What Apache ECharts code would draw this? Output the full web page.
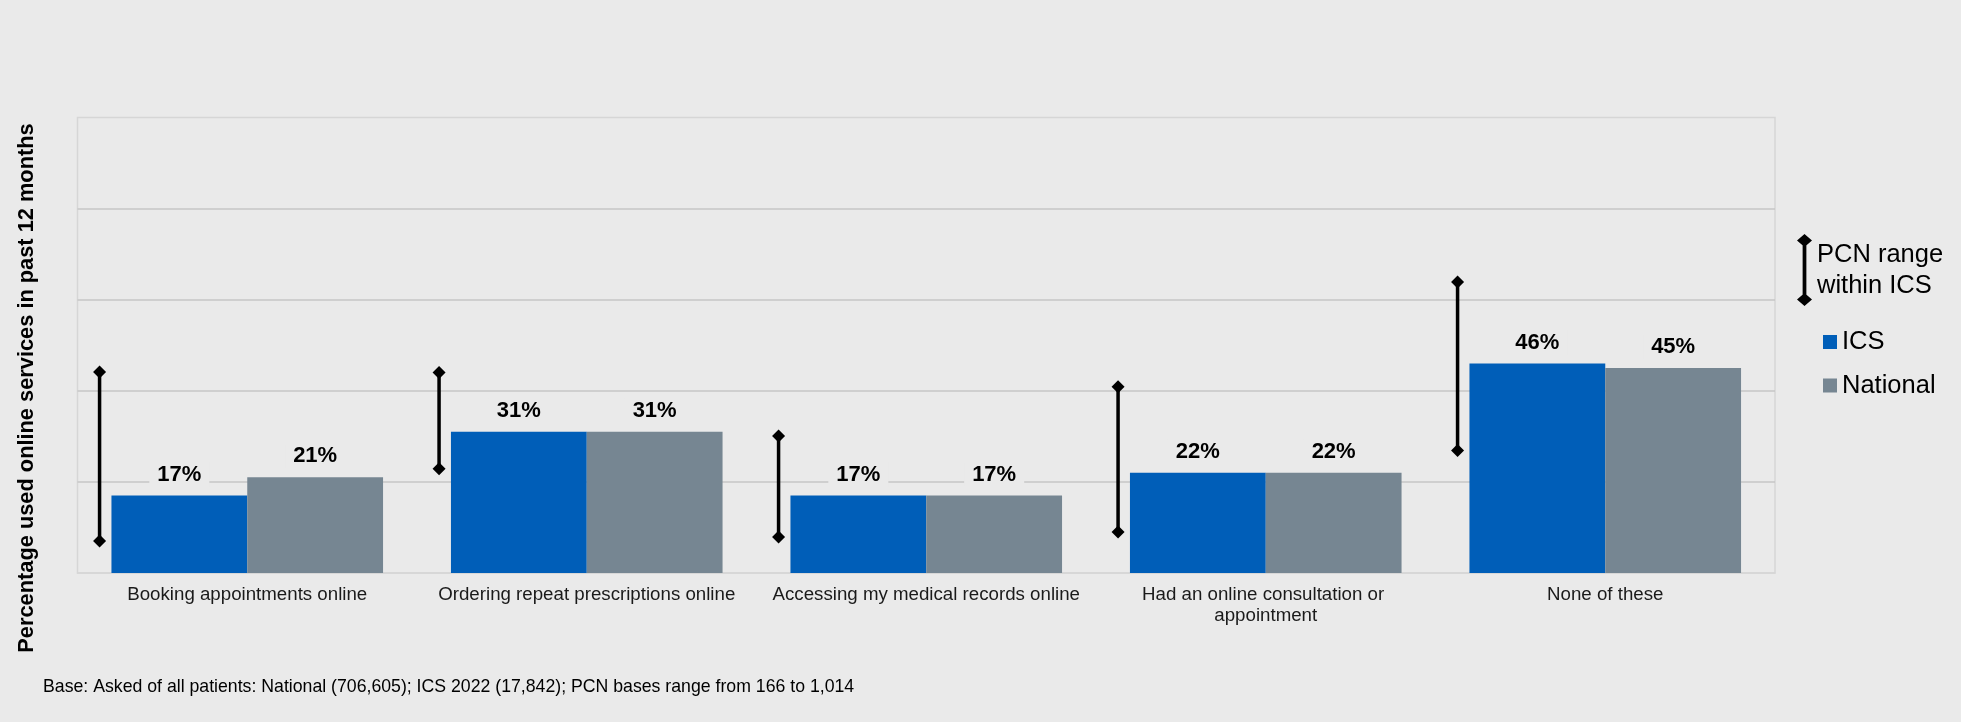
<!DOCTYPE html>
<html>
<head>
<meta charset="utf-8">
<script src="https://cdn.jsdelivr.net/npm/echarts@6/dist/echarts.min.js"></script>
<style>
html,body{margin:0;padding:0;background:#eaeaea;}
#chart{width:1961px;height:722px;}
</style>
</head>
<body>
<div id="chart"></div>
<script>
const categories = [
  'Booking appointments online',
  'Ordering repeat prescriptions online',
  'Accessing my medical records online',
  'Had an online consultation or appointment',
  'None of these'
];
const icsValues = [17, 31, 17, 22, 46];
const nationalValues = [21, 31, 17, 22, 45];
const pcnRangeLow = [7.0, 22.9, 7.9, 9.0, 26.9];
const pcnRangeHigh = [44.1, 44.0, 30.1, 40.9, 63.9];
const yTicks = [0, 20, 40, 60, 80, 100];

const BG = '#eaeaea';
const FONT = 'Liberation Sans, Arial, sans-serif';

const chart = echarts.init(document.getElementById('chart'), null, {renderer: 'canvas'});

const valueLabel = {
  show: true,
  position: 'top',
  distance: 9,
  formatter: '{c}%',
  fontFamily: FONT,
  fontSize: 22,
  fontWeight: 'bold',
  color: '#000',
  backgroundColor: BG,
  padding: [1, 8]
};

const pcnIcon = 'path://M7 0 L13 6 L7 12 L1 6 Z M5.5 6 L8.5 6 L8.5 60 L5.5 60 Z M7 54 L13 60 L7 66 L1 60 Z';

chart.setOption({
  backgroundColor: BG,
  animation: false,
  textStyle: {fontFamily: FONT},
  grid: {left: 77.5, right: 186, top: 117.5, bottom: 149, show: true, borderColor: '#d6d6d6', borderWidth: 1.5, backgroundColor: 'transparent'},
  legend: [
    {
      orient: 'vertical', left: 1792, top: 229,
      itemWidth: 15, itemHeight: 72, itemGap: 0,
      symbolKeepAspect: false,
      selectedMode: false,
      data: [{name: 'PCN range within ICS', icon: pcnIcon, itemStyle: {color: '#000', borderWidth: 0}}],
      formatter: () => 'PCN range\nwithin ICS',
      textStyle: {fontFamily: FONT, fontSize: 25.5, color: '#000', lineHeight: 31}
    },
    {
      orient: 'vertical', left: 1818, top: 323,
      itemWidth: 14, itemHeight: 14, itemGap: 15.5,
      selectedMode: false,
      data: [{name: 'ICS', icon: 'rect'}, {name: 'National', icon: 'rect'}],
      textStyle: {fontFamily: FONT, fontSize: 25.5, color: '#000', lineHeight: 28}
    }
  ],
  xAxis: {
    type: 'category',
    data: categories,
    axisTick: {show: false},
    axisLine: {show: true, lineStyle: {color: '#d6d6d6', width: 1.5}},
    axisLabel: {
      interval: 0, margin: 11,
      fontFamily: FONT, fontSize: 18.7, color: '#1a1a1a', lineHeight: 21,
      width: 320, overflow: 'break'
    }
  },
  yAxis: {
    type: 'value',
    min: yTicks[0], max: yTicks[yTicks.length - 1], interval: yTicks[1] - yTicks[0],
    axisLabel: {show: false},
    axisTick: {show: false},
    axisLine: {show: false},
    splitLine: {show: true, showMinLine: false, showMaxLine: false, lineStyle: {color: '#c6c6c6', width: 1.5}}
  },
  graphic: [
    {
      type: 'text', x: 27, y: 388, rotation: Math.PI / 2,
      style: {
        text: 'Percentage used online services in past 12 months',
        font: 'bold 21.8px ' + FONT, fill: '#000', align: 'center', verticalAlign: 'middle'
      }
    },
    {
      type: 'text', x: 43, y: 687,
      style: {
        text: 'Base: Asked of all patients: National (706,605); ICS 2022 (17,842); PCN bases range from 166 to 1,014',
        font: '17.7px ' + FONT, fill: '#000', align: 'left', verticalAlign: 'middle'
      }
    }
  ],
  series: [
    {
      name: 'ICS', type: 'bar', data: icsValues,
      barGap: '0%', barCategoryGap: '20%',
      itemStyle: {color: '#005eb8'},
      label: valueLabel
    },
    {
      name: 'National', type: 'bar', data: nationalValues,
      barGap: '0%', barCategoryGap: '20%',
      itemStyle: {color: '#768692'},
      label: valueLabel
    },
    {
      name: 'PCN range within ICS', type: 'custom',
      itemStyle: {color: '#000'},
      encode: {x: 0, y: [1, 2]},
      data: categories.map((c, i) => [i, pcnRangeLow[i], pcnRangeHigh[i]]),
      z: 5,
      renderItem: function (params, api) {
        const idx = api.value(0);
        const pLo = api.coord([idx, api.value(1)]);
        const pHi = api.coord([idx, api.value(2)]);
        const band = api.size([1, 0])[0];
        const x = pLo[0] - band * 0.435;
        const d = 6.5;
        const diamond = (y) => ({
          type: 'polygon',
          shape: {points: [[x, y - d], [x + d, y], [x, y + d], [x - d, y]]},
          style: {fill: '#000'}
        });
        return {
          type: 'group',
          children: [
            {type: 'line', shape: {x1: x, y1: pHi[1], x2: x, y2: pLo[1]}, style: {stroke: '#000', lineWidth: 3.5}},
            diamond(pHi[1]),
            diamond(pLo[1])
          ]
        };
      }
    }
  ]
});
</script>
</body>
</html>
